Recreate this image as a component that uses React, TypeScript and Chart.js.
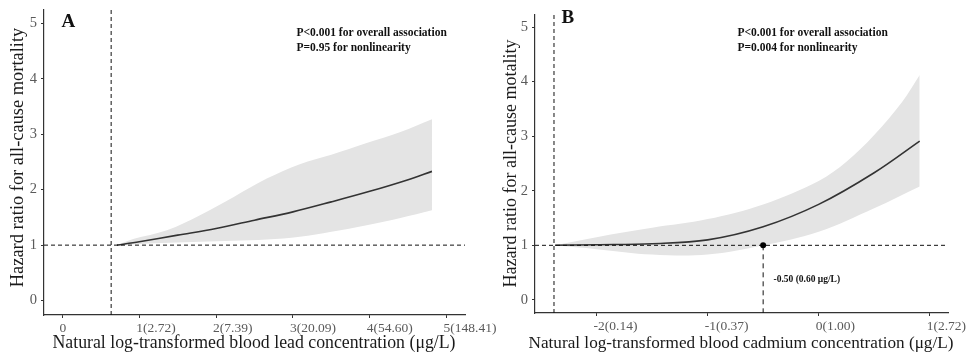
import React, { useEffect, useRef } from "react";
import Chart from "chart.js/auto";

// ---------- Data ----------
const yTickValues = [0, 1, 2, 3, 4, 5];

// Panel A: lead
const leadTickValues = [0, 1, 2, 3, 4, 5];
const leadTickLabels = ["0", "1(2.72)", "2(7.39)", "3(20.09)", "4(54.60)", "5(148.41)"];
const leadCurveX = [0.71, 1.0, 1.5, 2.0, 2.5, 3.0, 3.5, 4.0, 4.5, 4.81];
const leadCurveHR = [1.0, 1.06, 1.18, 1.3, 1.45, 1.6, 1.78, 1.97, 2.18, 2.33];
const leadUpperX = [0.71, 0.92, 1.36, 1.79, 2.23, 2.66, 3.09, 3.5, 3.96, 4.4, 4.81];
const leadUpperHR = [1.0, 1.11, 1.27, 1.54, 1.87, 2.2, 2.46, 2.63, 2.84, 3.04, 3.27];
const leadLowerX = [0.71, 1.0, 1.79, 2.66, 3.09, 3.5, 3.96, 4.4, 4.81];
const leadLowerHR = [1.0, 1.02, 1.06, 1.1, 1.15, 1.24, 1.36, 1.49, 1.63];
const leadRefX = 0.634;

// Panel B: cadmium
const cadTickValues = [-2, -1, 0, 1];
const cadTickLabels = ["-2(0.14)", "-1(0.37)", "0(1.00)", "1(2.72)"];
const cadCurveX = [-2.375, -2.0, -1.5, -1.0, -0.5, 0.0, 0.5, 0.91];
const cadCurveHR = [1.0, 1.01, 1.03, 1.1, 1.34, 1.75, 2.33, 2.91];
const cadUpperX = [-2.375, -2.0, -1.5, -1.0, -0.5, 0.0, 0.25, 0.5, 0.75, 0.91];
const cadUpperHR = [1.0, 1.15, 1.32, 1.48, 1.75, 2.18, 2.53, 3.02, 3.62, 4.12];
const cadLowerX = [-2.375, -2.0, -1.5, -1.0, -0.5, 0.0, 0.5, 0.91];
const cadLowerHR = [1.0, 0.93, 0.83, 0.83, 1.0, 1.25, 1.68, 2.08];
const cadRefX = -2.384;
const cadPointX = -0.5;
const cadPointHR = 1.0;

const SERIF = '"Liberation Serif", "Times New Roman", serif';

const toXY = (xs: number[], ys: number[]) => xs.map((x, i) => ({ x, y: ys[i] }));

type PanelSpec = {
  width: number;
  height: number;
  pad: { left: number; right: number; top: number; bottom: number };
  yAxisWidth: number;
  xAxisHeight: number;
  xMin: number;
  xMax: number;
  yMin: number;
  yMax: number;
  xTickValues: number[];
  xTickLabels: string[];
  curve: { x: number; y: number }[];
  upper: { x: number; y: number }[];
  lower: { x: number; y: number }[];
  refX: number;
  point?: { x: number; y: number };
  letter: string;
  letterPos: [number, number];
  pText: string[];
  pPos: [number, number];
  xTitle: string;
  xTitlePos: [number, number];
  xTitleSize: number;
  yTitle: string;
  yTitlePos: [number, number];
  yTitleSize: number;
  pointLabel?: string;
  pointLabelPos?: [number, number];
};

function makeConfig(s: PanelSpec): any {
  const dash = [4, 3];
  const datasets: any[] = [
    {
      data: s.upper,
      borderWidth: 0,
      pointRadius: 0,
      backgroundColor: "#e4e4e4",
      fill: "+1",
      tension: 0.35,
      order: 10,
    },
    {
      data: s.lower,
      borderWidth: 0,
      pointRadius: 0,
      backgroundColor: "#e4e4e4",
      fill: false,
      tension: 0.35,
      order: 10,
    },
    {
      data: s.curve,
      borderColor: "#333333",
      borderWidth: 1.6,
      pointRadius: 0,
      fill: false,
      tension: 0.35,
      order: 5,
    },
    {
      data: [
        { x: s.xMin, y: 1 },
        { x: s.xMax, y: 1 },
      ],
      borderColor: "#111111",
      borderWidth: 1,
      borderDash: dash,
      pointRadius: 0,
      fill: false,
      order: 2,
    },
    {
      data: [
        { x: s.refX, y: s.yMin },
        { x: s.refX, y: s.yMax },
      ],
      borderColor: "#111111",
      borderWidth: 1,
      borderDash: dash,
      pointRadius: 0,
      fill: false,
      order: 2,
    },
  ];
  if (s.point) {
    datasets.push({
      data: [
        { x: s.point.x, y: s.point.y },
        { x: s.point.x, y: s.yMin },
      ],
      borderColor: "#111111",
      borderWidth: 1,
      borderDash: [5, 4],
      pointRadius: 0,
      fill: false,
      order: 1,
    });
    datasets.push({
      data: [{ x: s.point.x, y: s.point.y }],
      showLine: false,
      pointRadius: 3,
      pointBackgroundColor: "#000000",
      pointBorderColor: "#000000",
      pointBorderWidth: 0,
      order: 0,
    });
  }

  const textPlugin = {
    id: "panelTexts",
    afterDraw(chart: any) {
      const ctx = chart.ctx;
      ctx.save();
      ctx.fillStyle = "#111111";
      // panel letter
      ctx.font = `bold 19px ${SERIF}`;
      ctx.textAlign = "left";
      ctx.textBaseline = "middle";
      ctx.fillText(s.letter, s.letterPos[0], s.letterPos[1]);
      // p-values
      ctx.font = `bold 11.5px ${SERIF}`;
      s.pText.forEach((t, i) => ctx.fillText(t, s.pPos[0], s.pPos[1] + i * 14.4));
      // point label
      if (s.pointLabel && s.pointLabelPos) {
        ctx.font = `bold 9.5px ${SERIF}`;
        ctx.fillText(s.pointLabel, s.pointLabelPos[0], s.pointLabelPos[1]);
      }
      // x title
      ctx.fillStyle = "#1a1a1a";
      ctx.font = `${s.xTitleSize}px ${SERIF}`;
      ctx.textAlign = "center";
      ctx.fillText(s.xTitle, s.xTitlePos[0], s.xTitlePos[1]);
      // y title
      ctx.font = `${s.yTitleSize}px ${SERIF}`;
      ctx.translate(s.yTitlePos[0], s.yTitlePos[1]);
      ctx.rotate(-Math.PI / 2);
      ctx.fillText(s.yTitle, 0, 0);
      ctx.restore();
    },
  };

  return {
    type: "line",
    data: { datasets },
    plugins: [textPlugin],
    options: {
      animation: false,
      responsive: false,
      devicePixelRatio: 1,
      layout: { padding: s.pad },
      plugins: {
        legend: { display: false },
        tooltip: { enabled: false },
        title: { display: false },
      },
      scales: {
        x: {
          type: "linear",
          min: s.xMin,
          max: s.xMax,
          afterBuildTicks: (scale: any) => {
            scale.ticks = s.xTickValues.map((v) => ({ value: v }));
          },
          afterFit: (scale: any) => {
            scale.height = s.xAxisHeight;
            scale.paddingLeft = 0;
            scale.paddingRight = 0;
          },
          ticks: {
            autoSkip: false,
            maxRotation: 0,
            align: "start",
            labelOffset: -3,
            padding: 2,
            color: "#5a5a5a",
            font: { family: SERIF, size: 13.5 },
            callback: (v: number) => {
              const i = s.xTickValues.indexOf(v);
              return i >= 0 ? s.xTickLabels[i] : "";
            },
          },
          grid: {
            display: true,
            drawOnChartArea: false,
            drawTicks: true,
            tickLength: 3,
            color: "#333333",
          },
          border: { display: true, color: "#333333", width: 1.2 },
        },
        y: {
          type: "linear",
          min: s.yMin,
          max: s.yMax,
          afterBuildTicks: (scale: any) => {
            scale.ticks = yTickValues.map((v) => ({ value: v }));
          },
          afterFit: (scale: any) => {
            scale.width = s.yAxisWidth;
            scale.paddingTop = 0;
            scale.paddingBottom = 0;
          },
          ticks: {
            padding: 4,
            color: "#5a5a5a",
            font: { family: SERIF, size: 14.5 },
            callback: (v: number) => String(v),
          },
          grid: {
            display: true,
            drawOnChartArea: false,
            drawTicks: true,
            tickLength: 3,
            color: "#333333",
          },
          border: { display: true, color: "#333333", width: 1.2 },
        },
      },
    },
  };
}

const panelA: PanelSpec = {
  width: 500,
  height: 357,
  pad: { left: 0, right: 35, top: 10, bottom: 0 },
  yAxisWidth: 44,
  xAxisHeight: 42,
  xMin: -0.24,
  xMax: 5.24,
  yMin: -0.26,
  yMax: 5.24,
  xTickValues: leadTickValues,
  xTickLabels: leadTickLabels,
  curve: toXY(leadCurveX, leadCurveHR),
  upper: toXY(leadUpperX, leadUpperHR),
  lower: toXY(leadLowerX, leadLowerHR),
  refX: leadRefX,
  letter: "A",
  letterPos: [61.5, 22],
  pText: ["P<0.001 for overall association", "P=0.95 for nonlinearity"],
  pPos: [296.5, 33.5],
  xTitle: "Natural log-transformed blood lead concentration (\u03bcg/L)",
  xTitlePos: [254, 343],
  xTitleSize: 17.8,
  yTitle: "Hazard ratio for all-cause mortality",
  yTitlePos: [18.5, 157.5],
  yTitleSize: 18.4,
};

const panelB: PanelSpec = {
  width: 486,
  height: 357,
  pad: { left: 0, right: 18, top: 15, bottom: 0 },
  yAxisWidth: 55,
  xAxisHeight: 44,
  xMin: -2.555,
  xMax: 1.165,
  yMin: -0.24,
  yMax: 5.22,
  xTickValues: cadTickValues,
  xTickLabels: cadTickLabels,
  curve: toXY(cadCurveX, cadCurveHR),
  upper: toXY(cadUpperX, cadUpperHR),
  lower: toXY(cadLowerX, cadLowerHR),
  refX: cadRefX,
  point: { x: cadPointX, y: cadPointHR },
  letter: "B",
  letterPos: [81.5, 18.5],
  pText: ["P<0.001 for overall association", "P=0.004 for nonlinearity"],
  pPos: [257.5, 33.5],
  xTitle: "Natural log-transformed blood cadmium concentration (\u03bcg/L)",
  xTitlePos: [261, 343.5],
  xTitleSize: 17.2,
  yTitle: "Hazard ratio for all-cause motality",
  yTitlePos: [31.5, 163.5],
  yTitleSize: 18,
  pointLabel: "-0.50 (0.60 \u03bcg/L)",
  pointLabelPos: [293.5, 280],
};

function Panel({ spec, left }: { spec: PanelSpec; left: number }) {
  const ref = useRef<HTMLCanvasElement | null>(null);
  useEffect(() => {
    if (!ref.current) return;
    const chart = new Chart(ref.current, makeConfig(spec));
    return () => chart.destroy();
  }, [spec]);
  return (
    <canvas
      ref={ref}
      width={spec.width}
      height={spec.height}
      style={{ position: "absolute", left, top: 0, width: spec.width, height: spec.height }}
    />
  );
}

export default function App() {
  return (
    <div style={{ position: "absolute", left: 0, top: 0, width: 966, height: 357, background: "#ffffff" }}>
      <Panel spec={panelA} left={0} />
      <Panel spec={panelB} left={480} />
    </div>
  );
}
